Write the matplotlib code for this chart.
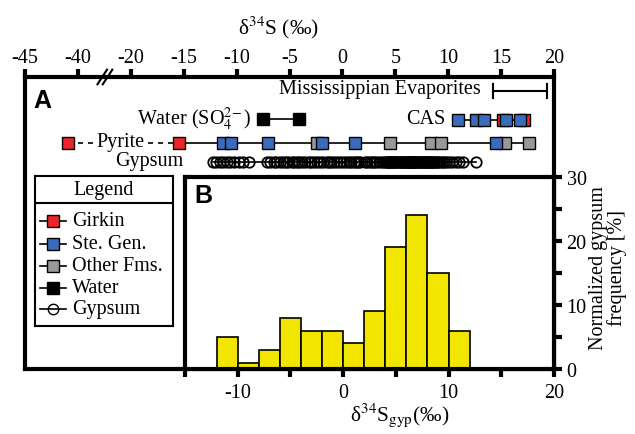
import matplotlib
matplotlib.use("Agg")
import matplotlib.pyplot as plt

plt.rcParams['font.family'] = ['Liberation Serif', 'DejaVu Serif']
plt.rcParams['mathtext.fontset'] = 'stix'
plt.rcParams['axes.unicode_minus'] = False

# panel A data (d34S, permil)
evap_range = [14.2, 19.3]
water_vals = [-7.5, -4.1]
cas_girkin = [15.2, 17.2]
cas_stegen = [10.9, 12.6, 13.4, 15.5, 16.8]
pyr_girkin = [-40.9, -15.4]
pyr_stegen = [-11.3, -10.5, -7.0, -1.9, 1.2, 14.5]
pyr_other = [-2.4, 4.5, 8.4, 9.3, 15.4, 17.6]
gypsum_vals = [-12.2, -11.9, -11.6, -11.3, -10.9, -10.6, -10.2, -9.8, -9.4, -8.8,
               -7.1, -6.8, -6.5, -6.3,
               -5.9, -5.6, -5.3, -5.1, -4.8, -4.6, -4.3, -4.1,
               -3.8, -3.5, -3.2, -3.0, -2.7, -2.4, -2.1,
               -1.8, -1.5, -1.3, -1.1, -0.8, -0.5, -0.2,
               0.1, 0.3, 0.6, 0.8, 1.1, 1.3, 1.5, 1.7,
               2.1, 2.3, 2.6, 2.8, 3.0, 3.2, 3.5, 3.7, 3.9,
               4.1, 4.2, 4.3, 4.4, 4.5, 4.6, 4.7, 4.8, 4.9, 5.0,
               5.1, 5.2, 5.3, 5.4, 5.5, 5.6, 5.7, 5.8, 5.9,
               6.05, 6.1, 6.2, 6.25, 6.3, 6.4, 6.45, 6.5, 6.6, 6.65, 6.7, 6.8,
               6.85, 6.9, 7.0, 7.1, 7.2, 7.3, 7.4, 7.5, 7.6, 7.7, 7.8, 7.9,
               8.0, 8.1, 8.2, 8.3, 8.4, 8.5, 8.6, 8.7, 8.8, 8.9, 9.0, 9.2, 9.4, 9.6, 9.8,
               10.1, 10.4, 10.7, 11.0, 11.4, 12.6]

# panel B histogram
bin_left = [-12, -10, -8, -6, -4, -2, 0, 2, 4, 6, 8, 10]
freq = [5, 1, 3, 8, 6, 6, 4, 9, 19, 24, 15, 6]

top_ticks = [-45, -40, -20, -15, -10, -5, 0, 5, 10, 15, 20]

RED = '#e8262b'
BLUE = '#3b6cbc'
GRAY = '#999999'
YELLOW = '#f2e600'
FS = 14.5


def brk(v):
    # axis break: -45..-40 shifted next to -20
    return v if v >= -20 else v + 15


W, H = 635, 435
fig = plt.figure(figsize=(W / 100, H / 100), dpi=100)


def fax(x0, y0, x1, y1):
    return [x0 / W, 1 - y1 / H, (x1 - x0) / W, (y1 - y0) / H]


# ---------- panel A ----------
ax = fig.add_axes(fax(25, 78, 554, 370))
ax.set_xlim(-30, 20)
ax.set_ylim(0, 292)
for s in ax.spines.values():
    s.set_linewidth(3)
ax.xaxis.tick_top()
ax.set_xticks([brk(t) for t in top_ticks])
ax.set_xticklabels([str(t) for t in top_ticks])
ax.tick_params(axis='x', direction='out', length=6, width=3, labelsize=FS, pad=1)
ax.set_yticks([])

evap_y, water_y, cas_y, pyr_y, gyp_y = 278, 250, 249, 226, 207
ms = 8

# evaporites range
ax.plot(evap_range, [evap_y, evap_y], color='black', lw=1.5)
for v in evap_range:
    ax.plot([v, v], [evap_y - 7, evap_y + 7], color='black', lw=1.5)
ax.text(13.1, evap_y + 2, 'Mississippian Evaporites', ha='right', va='center', fontsize=FS)

# water
ax.plot(water_vals, [water_y] * 2, color='black', lw=1.2, marker='s', ms=ms,
        mfc='black', mec='black')
ax.text(-8.6, water_y + 1, r'Water (SO$_4^{2\!-}$)', ha='right', va='center', fontsize=FS)

# CAS
cas_all = sorted(cas_girkin + cas_stegen)
ax.plot([cas_all[0], cas_all[-1]], [cas_y] * 2, color='black', lw=1.2, zorder=2)
ax.plot(cas_girkin, [cas_y] * len(cas_girkin), ls='none', marker='s', ms=ms,
        mfc=RED, mec='black', mew=1, zorder=3)
ax.plot(cas_stegen, [cas_y] * len(cas_stegen), ls='none', marker='s', ms=ms,
        mfc=BLUE, mec='black', mew=1, zorder=4)
ax.text(9.7, cas_y + 1, 'CAS', ha='right', va='center', fontsize=FS)

# pyrite
pyr_all = sorted(pyr_girkin + pyr_stegen + pyr_other)
ax.plot([brk(pyr_all[0]), brk(pyr_all[1])], [pyr_y] * 2, color='black', lw=1.2,
        ls=(0, (3, 3)), zorder=2)
ax.plot([brk(pyr_all[1]), brk(pyr_all[-1])], [pyr_y] * 2, color='black', lw=1.2, zorder=2)
ax.plot([brk(v) for v in pyr_other], [pyr_y] * len(pyr_other), ls='none', marker='s',
        ms=ms, mfc=GRAY, mec='black', mew=1, zorder=3)
ax.plot([brk(v) for v in pyr_stegen], [pyr_y] * len(pyr_stegen), ls='none', marker='s',
        ms=ms, mfc=BLUE, mec='black', mew=1, zorder=4)
ax.plot([brk(v) for v in pyr_girkin], [pyr_y] * len(pyr_girkin), ls='none', marker='s',
        ms=ms, mfc=RED, mec='black', mew=1, zorder=4)
ax.text(-21.0, pyr_y + 1, 'Pyrite', ha='center', va='center', fontsize=FS, zorder=5,
        bbox=dict(facecolor='white', edgecolor='none', pad=0.5))

# gypsum
ax.plot([min(gypsum_vals), max(gypsum_vals)], [gyp_y] * 2, color='black', lw=1.2, zorder=2)
ax.plot(gypsum_vals, [gyp_y] * len(gypsum_vals), ls='none', marker='o', ms=7.5,
        mfc='none', mec='black', mew=1.3, zorder=3)
ax.text(-15.0, gyp_y + 1, 'Gypsum', ha='right', va='center', fontsize=FS)

ax.text(-28.4, 269, 'A', ha='center', va='center', fontsize=18, fontweight='bold',
        family='Liberation Sans')

# break marks on the top axis
for u in (-22.7, -22.2):
    ax.plot([u - 0.45, u + 0.45], [0.975, 1.025], color='black', lw=1.5,
            transform=ax.get_xaxis_transform(), clip_on=False, zorder=6)

fig.text(278 / W, 1 - 28 / H, r'δ$^{34}$S (‰)', ha='center', va='center', fontsize=15.5)

# ---------- legend ----------
lg = fig.add_axes(fax(35, 177, 173, 327))
lg.set_xlim(0, 138)
lg.set_ylim(150, 0)
lg.set_xticks([])
lg.set_yticks([])
for s in lg.spines.values():
    s.set_linewidth(1.5)
lg.axhline(27, color='black', lw=1.5)
lg.text(69, 14, 'Legend', ha='center', va='center', fontsize=FS)
entries = [('Girkin', 's', RED), ('Ste. Gen.', 's', BLUE), ('Other Fms.', 's', GRAY),
           ('Water', 's', 'black'), ('Gypsum', 'o', 'none')]
ey = [45, 68, 90, 112, 133]
for (name, mk, fc), y in zip(entries, ey):
    lg.plot([5, 31], [y, y], color='black', lw=1.2)
    lg.plot([18], [y], marker=mk, ms=ms if mk == 's' else 7.5, mfc=fc, mec='black', mew=1)
    lg.text(37, y, name, ha='left', va='center', fontsize=FS)

# ---------- panel B ----------
bx = fig.add_axes(fax(185, 178, 554, 370))
bx.set_facecolor('white')
bx.bar(bin_left, freq, width=2, align='edge', color=YELLOW, edgecolor='black', lw=1.2)
bx.set_xlim(-15, 20)
bx.set_ylim(0, 30)
for s in bx.spines.values():
    s.set_linewidth(3)
bx.yaxis.tick_right()
bx.set_xticks([-10, 0, 10, 20])
bx.set_xticks([-15, -5, 5, 15], minor=True)
bx.set_yticks([0, 10, 20, 30])
bx.set_yticks([5, 15, 25], minor=True)
bx.tick_params(which='both', direction='out', length=6, width=3, labelsize=FS)
bx.tick_params(axis='x', pad=4)
bx.tick_params(axis='y', pad=3)
bx.text(-14.1, 27.2, 'B', ha='left', va='center', fontsize=18, fontweight='bold',
        family='Liberation Sans')

fig.text(400 / W, 1 - 415 / H, r'δ$^{34}$S$_{\mathrm{gyp}}$(‰)', ha='center', va='center',
         fontsize=15.5)
fig.text(608 / W, 1 - 268 / H, 'Normalized gypsum\nfrequency [%]', ha='center',
         va='center', rotation=90, fontsize=FS, multialignment='center', linespacing=1.0)

fig.savefig('out.png', dpi=100)
